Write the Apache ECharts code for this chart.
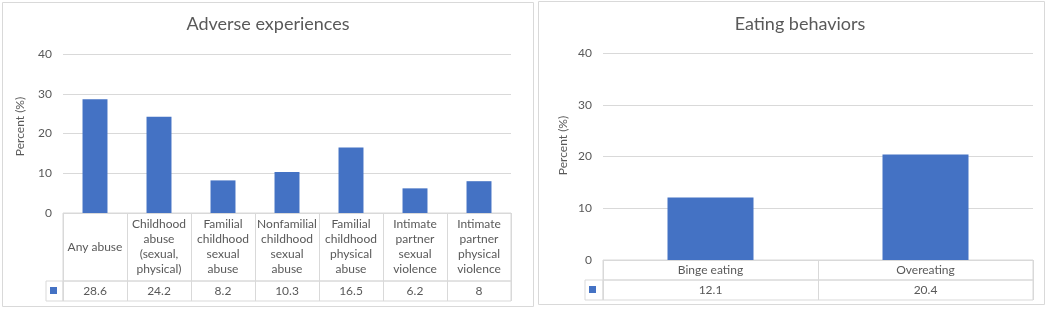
<!DOCTYPE html>
<html>
<head>
<meta charset="utf-8">
<script src="https://cdn.jsdelivr.net/npm/echarts@6/dist/echarts.min.js"></script>
<style>
  html, body { margin: 0; padding: 0; background: #fff; }
  #chart { width: 1050px; height: 309px; }
</style>
</head>
<body>
<div id="chart"></div>
<script>
var abuseCats = ['Any abuse', 'Childhood\nabuse\n(sexual,\nphysical)', 'Familial\nchildhood\nsexual\nabuse',
  'Nonfamilial\nchildhood\nsexual\nabuse', 'Familial\nchildhood\nphysical\nabuse',
  'Intimate\npartner\nsexual\nviolence', 'Intimate\npartner\nphysical\nviolence'];
var abuseVals = [28.6, 24.2, 8.2, 10.3, 16.5, 6.2, 8];
var eatCats = ['Binge eating', 'Overeating'];
var eatVals = [12.1, 20.4];
var yTicks = { min: 0, max: 40, interval: 10 };

var chart = echarts.init(document.getElementById('chart'));
var txt = '#595959', line = '#d9d9d9', blue = '#4472C4', font = 'Lato';

function cell(l, t, w, h) {
  return { left: l, top: t, width: w, height: h, show: true, borderColor: line, borderWidth: 1, backgroundColor: 'transparent' };
}
function plotX(cats, g) {
  return { gridIndex: g, type: 'category', data: cats, axisLine: { show: false }, axisTick: { show: false }, axisLabel: { show: false } };
}
function tableX(cats, g, margin) {
  return {
    gridIndex: g, type: 'category', data: cats, position: 'top',
    axisLine: { show: false }, axisTick: { show: false },
    splitLine: { show: true, interval: 0, lineStyle: { color: line } },
    axisLabel: { inside: true, margin: margin, interval: 0, verticalAlign: 'middle', align: 'center',
      color: txt, fontSize: 12, fontFamily: font, lineHeight: 15 }
  };
}
// shift = how far the axis title sits above the middle of the plot
function plotY(g, gap, shift) {
  return {
    gridIndex: g, type: 'value', min: yTicks.min, max: yTicks.max, interval: yTicks.interval,
    name: 'Percent (%)', nameLocation: 'middle', nameGap: gap,
    nameTextStyle: { color: txt, fontSize: 12, fontFamily: font, padding: [0, 0, 0, shift * 2] },
    axisLabel: { color: txt, fontSize: 12, fontFamily: font, margin: 11 },
    splitLine: { lineStyle: { color: line } }
  };
}
function hideAx(g, type) {
  return { gridIndex: g, type: type || 'value', show: false };
}

var option = {
  animation: false,
  title: [
    { text: 'Adverse experiences', left: 263, top: 10, textAlign: 'center',
      textStyle: { color: txt, fontSize: 18, fontWeight: 'normal', fontFamily: font } },
    { text: 'Eating behaviors', left: 795, top: 10, textAlign: 'center',
      textStyle: { color: txt, fontSize: 18, fontWeight: 'normal', fontFamily: font } }
  ],
  legend: [
    { data: ['Adverse experiences'], left: 50, top: 287, padding: 0, itemWidth: 7, itemHeight: 7, icon: 'rect',
      selectedMode: false, formatter: function () { return ''; } },
    { data: ['Eating behaviors'], left: 589, top: 286, padding: 0, itemWidth: 7, itemHeight: 7, icon: 'rect',
      selectedMode: false, formatter: function () { return ''; } }
  ],
  graphic: [
    { type: 'rect', shape: { x: 2.5, y: 2.5, width: 531, height: 304 }, style: { fill: 'none', stroke: line } },
    { type: 'rect', shape: { x: 538.5, y: 1.5, width: 506, height: 303 }, style: { fill: 'none', stroke: line } }
  ],
  grid: [
    { left: 63, top: 54, width: 448, height: 159 },
    cell(63, 213, 448, 68),
    cell(63, 281, 448, 20),
    cell(46, 281, 17, 20),
    { left: 603, top: 53, width: 430, height: 207 },
    cell(603, 260, 430, 20),
    cell(603, 280, 430, 20),
    cell(585, 280, 18, 20)
  ],
  xAxis: [
    plotX(abuseCats, 0),
    tableX(abuseCats, 1, 34),
    tableX(abuseVals.map(String), 2, 10),
    hideAx(3, 'category'),
    plotX(eatCats, 4),
    tableX(eatCats, 5, 10),
    tableX(eatVals.map(String), 6, 10),
    hideAx(7, 'category')
  ],
  yAxis: [
    plotY(0, 37, 7), hideAx(1), hideAx(2), hideAx(3),
    plotY(4, 34, 11), hideAx(5), hideAx(6), hideAx(7)
  ],
  series: [
    { name: 'Adverse experiences', type: 'bar', xAxisIndex: 0, yAxisIndex: 0, data: abuseVals,
      barWidth: '39%', itemStyle: { color: blue } },
    { name: 'Eating behaviors', type: 'bar', xAxisIndex: 4, yAxisIndex: 4, data: eatVals,
      barWidth: '40%', itemStyle: { color: blue } }
  ]
};
chart.setOption(option);
</script>
</body>
</html>
